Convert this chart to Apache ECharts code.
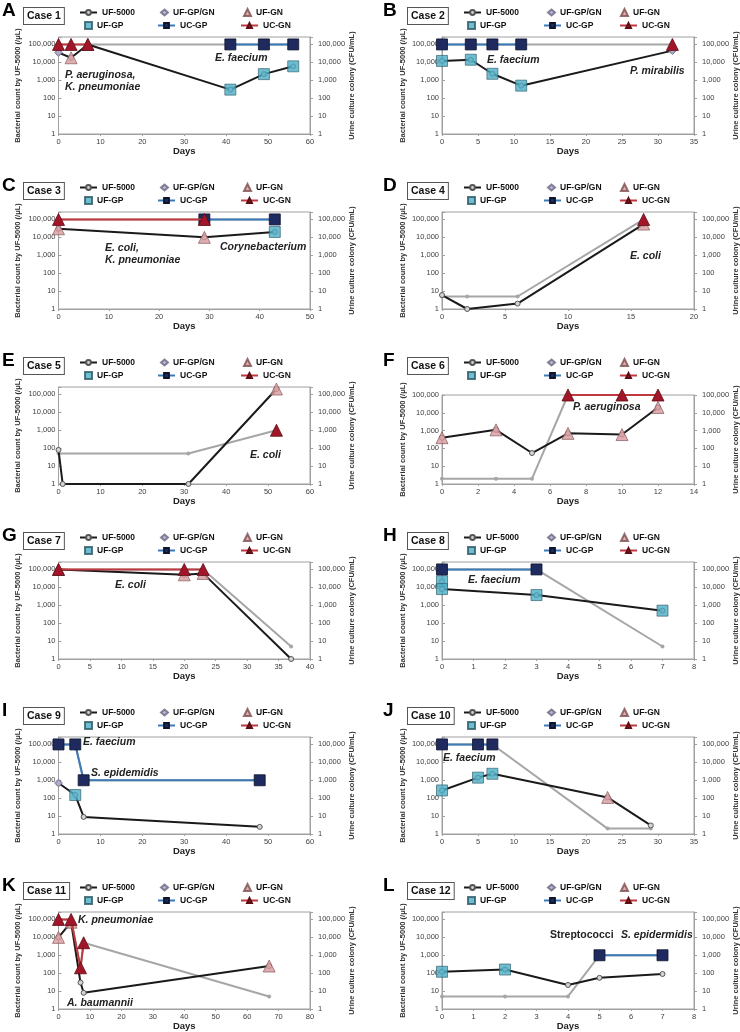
<!DOCTYPE html>
<html>
<head>
<meta charset="utf-8">
<script src="https://cdn.jsdelivr.net/npm/echarts@6.0.0/dist/echarts.min.js"></script>
<style>
html, body { margin: 0; padding: 0; background: #fff; width: 740px; height: 1032px; overflow: hidden; position: relative; }
.panel { position: absolute; width: 370px; height: 175px; }
</style>
</head>
<body>
<script>
// UF-5000 bacterial count per visit: [day, count /uL, UF class]
// class: '' = not classified, 'GP' = UF-GP, 'GN' = UF-GN, 'GP/GN' = UF-GP/GN
var ufCase1  = [[0, 35000, 'GP/GN'], [3, 18000, 'GN'], [7, 100000, 'GN'], [41, 300, 'GP'], [49, 2200, 'GP'], [56, 6000, 'GP']];
var ufCase2  = [[0, 12000, 'GP'], [4, 14000, 'GP'], [7, 2300, 'GP'], [11, 500, 'GP'], [32, 45000, 'GP/GN']];
var ufCase3  = [[0, 30000, 'GN'], [29, 10000, 'GN'], [43, 20000, 'GP']];
var ufCase4  = [[0, 6, ''], [2, 1, ''], [6, 2, ''], [16, 55000, 'GN']];
var ufCase5  = [[0, 80, ''], [1, 1, ''], [31, 1, ''], [52, 200000, 'GN']];
var ufCase6  = [[0, 400, 'GN'], [3, 1100, 'GN'], [5, 55, ''], [7, 700, 'GN'], [10, 600, 'GN'], [12, 20000, 'GN']];
var ufCase7  = [[0, 100000, 'GN'], [20, 50000, 'GN'], [23, 60000, 'GN'], [37, 1, '']];
var ufCase8  = [[0, 22000, 'GP'], [0, 8000, 'GP'], [3, 3700, 'GP'], [7, 500, 'GP']];
var ufCase9  = [[0, 700, 'GP/GN'], [4, 150, 'GP'], [6, 9, ''], [48, 2.5, '']];
var ufCase10 = [[0, 270, 'GP'], [5, 1400, 'GP'], [7, 2300, 'GP'], [23, 110, 'GN'], [29, 3, '']];
var ufCase11 = [[0, 10000, 'GN'], [4, 70000, 'GN'], [7, 30, ''], [8, 8, ''], [67, 250, 'GN']];
var ufCase12 = [[0, 120, 'GP'], [2, 160, 'GP'], [4, 22, ''], [5, 55, ''], [7, 90, '']];

// urine culture per visit: [day, CFU/mL, organism group] ('' = negative)
var ucCase1  = [[0, 100000, 'GN'], [3, 100000, 'GN'], [7, 100000, 'GN'], [41, 100000, 'GP'], [49, 100000, 'GP'], [56, 100000, 'GP']];
var ucCase2  = [[0, 100000, 'GP'], [4, 100000, 'GP'], [7, 100000, 'GP'], [11, 100000, 'GP'], [32, 100000, 'GN']];
var ucCase3  = [[0, 100000, 'GN'], [29, 100000, 'GN+GP'], [43, 100000, 'GP']];
var ucCase4  = [[0, 5, ''], [2, 5, ''], [6, 5, ''], [16, 100000, 'GN']];
var ucCase5  = [[0, 50, ''], [31, 50, ''], [52, 1000, 'GN']];
var ucCase6  = [[0, 2, ''], [3, 2, ''], [5, 2, ''], [7, 100000, 'GN'], [10, 100000, 'GN'], [12, 100000, 'GN']];
var ucCase7  = [[0, 100000, 'GN'], [20, 100000, 'GN'], [23, 100000, 'GN'], [37, 5, '']];
var ucCase8  = [[0, 100000, 'GP'], [3, 100000, 'GP'], [7, 5, '']];
var ucCase9  = [[0, 100000, 'GP'], [4, 100000, 'GP'], [6, 1000, 'GP'], [48, 1000, 'GP']];
var ucCase10 = [[0, 100000, 'GP'], [5, 100000, 'GP'], [7, 100000, 'GP'], [23, 2, ''], [29, 2, '']];
var ucCase11 = [[0, 100000, 'GN'], [4, 100000, 'GN'], [7, 200, 'GN'], [8, 5000, 'GN'], [67, 5, '']];
var ucCase12 = [[0, 5, ''], [2, 5, ''], [4, 5, ''], [5, 1000, 'GP'], [7, 1000, 'GP']];

var panelLetters = ['A', 'B', 'C', 'D', 'E', 'F', 'G', 'H', 'I', 'J', 'K', 'L'];
var caseNames = ['Case 1', 'Case 2', 'Case 3', 'Case 4', 'Case 5', 'Case 6', 'Case 7', 'Case 8', 'Case 9', 'Case 10', 'Case 11', 'Case 12'];
var dayMax  = [60, 35, 50, 20, 60, 14, 40, 8, 60, 35, 80, 8];
var dayStep = [10, 5, 10, 5, 10, 2, 5, 1, 10, 5, 10, 1];
var countMax = [260000, 260000, 260000, 260000, 260000, 100000, 260000, 260000, 260000, 260000, 260000, 260000];
var organisms = [
	['E. faecium', 'P. aeruginosa,', 'K. pneumoniae'],
	['E. faecium', 'P. mirabilis'],
	['E. coli,', 'K. pneumoniae', 'Corynebacterium'],
	['E. coli'],
	['E. coli'],
	['P. aeruginosa'],
	['E. coli'],
	['E. faecium'],
	['E. faecium', 'S. epidemidis'],
	['E. faecium'],
	['K. pneumoniae', 'A. baumannii'],
	['Streptococci', 'S. epidermidis']
];

var ufAll = [ufCase1, ufCase2, ufCase3, ufCase4, ufCase5, ufCase6, ufCase7, ufCase8, ufCase9, ufCase10, ufCase11, ufCase12];
var ucAll = [ucCase1, ucCase2, ucCase3, ucCase4, ucCase5, ucCase6, ucCase7, ucCase8, ucCase9, ucCase10, ucCase11, ucCase12];

// where the organism names sit in each panel (x, y centre, italic?)
var notePos = [
	[[215, 59, 1], [65, 76, 1], [65, 88, 1]],
	[[117, 61, 1], [260, 72, 1]],
	[[105, 74, 1], [105, 86, 1], [220, 73, 1]],
	[[260, 82, 1]],
	[[250, 106, 1]],
	[[203, 58, 1]],
	[[115, 61, 1]],
	[[98, 56, 1]],
	[[83, 43, 1], [91, 74, 1]],
	[[73, 59, 1]],
	[[78, 46, 1], [67, 129, 1]],
	[[180, 61, 0], [251, 61, 1]]
];

var FONT = '"Liberation Sans", Arial, Helvetica, sans-serif';

function pick(list, kind) {
	var out = [];
	list.forEach(function (p) {
		if (p[2].split('+').indexOf(kind) >= 0) out.push([p[0], p[1]]);
	});
	return out;
}

function fmtCount(v) {
	var e = Math.log(v) / Math.LN10;
	if (Math.abs(e - Math.round(e)) > 1e-6) return '';
	return String(Math.round(v)).replace(/\B(?=(\d{3})+(?!\d))/g, ',');
}

function yAxisCfg(pos, name, ymax, gap) {
	return {
		type: 'log', logBase: 10, min: 1, max: ymax, position: pos,
		name: name, nameLocation: 'middle', nameRotate: 90, nameGap: gap, nameMoveOverlap: false,
		nameTextStyle: {fontSize: 7.5, fontWeight: 'bold', color: '#333', fontFamily: FONT},
		axisLine: {show: true, lineStyle: {color: '#a0a0a0', width: 1}},
		axisTick: {show: true, inside: pos === 'left', length: 3, lineStyle: {color: '#a0a0a0'}},
		splitLine: {show: false},
		axisLabel: {fontSize: 7.5, color: '#404040', fontFamily: FONT, margin: pos === 'left' ? 3 : 8, formatter: fmtCount}
	};
}

function legendItem(name, left, top, w, h) {
	return {
		data: [name], left: left, top: top, padding: 0, itemWidth: w, itemHeight: h,
		selectedMode: false,
		textStyle: {fontSize: 8.5, fontWeight: 'bold', color: '#111', fontFamily: FONT}
	};
}

function buildPanel(i) {
	var col = i % 2, row = Math.floor(i / 2);
	var div = document.createElement('div');
	div.className = 'panel';
	div.style.left = (col * 370) + 'px';
	div.style.top = (row * 175) + 'px';
	document.body.appendChild(div);

	var uf = ufAll[i], uc = ucAll[i];
	var ymax = countMax[i];
	var gTop = ymax === 100000 ? 45 : 37;
	var grid = col === 0
		? {left: 58.5, right: 60, top: gTop, bottom: 175 - 134}
		: {left: 72, right: 46, top: gTop, bottom: 175 - 134};
	grid.show = true;
	grid.borderColor = '#a0a0a0';
	grid.borderWidth = 1;
	grid.outerBoundsMode = 'none';

	var L = col === 0
		? {uf: 79, gpgn: 160, gn: 243, gp: 84, ucgp: 157, ucgn: 240, letter: 2, box: 23}
		: {uf: 93, gpgn: 177, gn: 250, gp: 97, ucgp: 173, ucgn: 249, letter: 13, box: 37};

	var graphics = [
		{type: 'text', left: L.letter, top: 1, style: {text: panelLetters[i], font: 'bold 19px ' + FONT, fill: '#000'}},
		{type: 'text', left: L.box, top: 7, style: {text: caseNames[i], font: 'bold 10.5px ' + FONT, fill: '#111',
			padding: [3, 3, 2, 3], borderColor: '#555', borderWidth: 1, backgroundColor: '#fff'}}
	];
	organisms[i].forEach(function (t, k) {
		var p = notePos[i][k];
		graphics.push({type: 'text', left: p[0], top: p[1] - 6, z: 20,
			style: {text: t, font: (p[2] ? 'italic ' : '') + 'bold 10.5px ' + FONT, fill: '#222'}});
	});

	var option = {
		animation: false,
		grid: grid,
		legend: [
			legendItem('UF-5000', L.uf, 8, 17, 6),
			legendItem('UF-GP/GN', L.gpgn, 8, 7, 6),
			legendItem('UF-GN', L.gn, 8, 7, 7),
			legendItem('UF-GP', L.gp, 21, 7, 7),
			legendItem('UC-GP', L.ucgp, 21, 17, 6),
			legendItem('UC-GN', L.ucgn, 21, 17, 6)
		],
		xAxis: {
			type: 'value', min: 0, max: dayMax[i], interval: dayStep[i],
			name: 'Days', nameLocation: 'middle', nameGap: 12, nameMoveOverlap: false,
			nameTextStyle: {fontSize: 9.5, fontWeight: 'bold', color: '#222', fontFamily: FONT},
			axisLine: {show: true, lineStyle: {color: '#a0a0a0'}},
			axisTick: {show: true, length: 2, lineStyle: {color: '#a0a0a0'}},
			splitLine: {show: false},
			axisLabel: {fontSize: 7.5, color: '#404040', fontFamily: FONT, margin: 4}
		},
		yAxis: [
			yAxisCfg('left', 'Bacterial count by UF-5000 (/\u03bcL)', ymax, col === 0 ? 36.5 : 35),
			yAxisCfg('right', 'Urine culture colony (CFU/mL)', ymax, 37.5)
		],
		graphic: graphics,
		series: [
			{name: 'culture', type: 'line', yAxisIndex: 1, z: 1,
				data: uc.map(function (p) { return [p[0], p[1]]; }),
				lineStyle: {color: '#a6a6a6', width: 2},
				symbol: 'circle', symbolSize: 4, itemStyle: {color: '#a6a6a6'}},
			{name: 'UF-5000', type: 'line', z: 2,
				data: uf.map(function (p) { return [p[0], p[1]]; }),
				lineStyle: {color: '#1a1a1a', width: 2},
				symbol: 'circle', symbolSize: 5,
				itemStyle: {color: '#d4d4d4', borderColor: '#555', borderWidth: 1}},
			{name: 'UF-GP/GN', type: 'scatter', z: 3, data: pick(uf, 'GP/GN'),
				symbol: 'diamond', symbolSize: 8,
				itemStyle: {color: '#aaa3cc', borderColor: '#6a6780', borderWidth: 0.8}},
			{name: 'UF-GN', type: 'scatter', z: 3, data: pick(uf, 'GN'),
				symbol: 'triangle', symbolSize: 12,
				itemStyle: {color: '#d89a9c', borderColor: '#7a4c4e', borderWidth: 0.8}},
			{name: 'UF-GP', type: 'scatter', z: 3, data: pick(uf, 'GP'),
				symbol: 'rect', symbolSize: 11,
				itemStyle: {color: '#4bacc6', borderColor: '#2a5864', borderWidth: 0.8}},
			{name: 'UC-GP', type: 'line', yAxisIndex: 1, z: 4, data: pick(uc, 'GP'),
				lineStyle: {color: '#3d7ab8', width: 2},
				symbol: 'rect', symbolSize: 11,
				itemStyle: {color: '#1f2a5e', borderColor: '#0e1430', borderWidth: 0.8}},
			{name: 'UC-GN', type: 'line', yAxisIndex: 1, z: 5, data: pick(uc, 'GN'),
				lineStyle: {color: '#c0393e', width: 2},
				symbol: 'triangle', symbolSize: 12,
				itemStyle: {color: '#a3162a', borderColor: '#5c0d14', borderWidth: 0.8}}
		]
	};
	var chart = echarts.init(div, null, {renderer: 'canvas'});
	chart.setOption(option);
}

for (var i = 0; i < 12; i++) buildPanel(i);
</script>
</body>
</html>
